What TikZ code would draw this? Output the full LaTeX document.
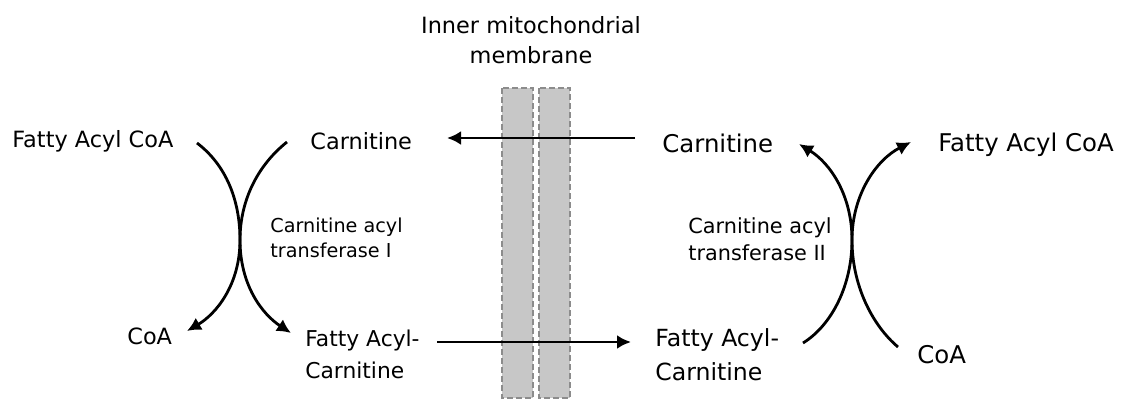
\documentclass[tikz,border=0pt]{standalone}
\usepackage{fontspec}
\setmainfont{DejaVu Sans}
\usetikzlibrary{arrows.meta}
\begin{document}
\begin{tikzpicture}[x=0.5pt,y=-0.5pt,
  lbl/.style={inner sep=0pt,anchor=west,font=\fontsize{11.2}{12}\selectfont},
  lblR/.style={inner sep=0pt,anchor=west,font=\fontsize{12.2}{13}\selectfont},
  enz/.style={inner sep=0pt,anchor=west,align=left,font=\fontsize{9.6}{12.5}\selectfont},
  arr/.style={line width=1.4pt,-{Latex[length=7pt,width=7pt]}},
  crv/.style={line width=1.4pt},
  bar/.style={fill=black!22,draw=black!45,line width=0.8pt,dash pattern=on 3pt off 1.5pt}]
\useasboundingbox (0,0) rectangle (1124,398);
% membrane
\path[bar] (502,88) rectangle (533,398);
\path[bar] (539,88) rectangle (570,398);
\node[inner sep=0pt,align=center,font=\fontsize{11.2}{15}\selectfont] (mem) at (531,40) {Inner mitochondrial\\membrane};
% left side
\node[lbl] (facoaL) at (12,141) {Fatty Acyl CoA};
\node[lbl] (carL) at (310,141) {Carnitine};
\node[enz] (cat1) at (270,238) {Carnitine acyl\\transferase I};
\node[lbl] (coaL) at (127,336) {CoA};
\node[lbl,align=left,font=\fontsize{10.9}{16}\selectfont] (facL) at (305,354) {Fatty Acyl-\\Carnitine};
% right side
\node[lblR] (carR) at (662,143) {Carnitine};
\node[lblR] (facoaR) at (938,145) {Fatty Acyl CoA};
\node[enz,font=\fontsize{10.4}{13.5}\selectfont] (cat2) at (688,239) {Carnitine acyl\\transferase II};
\node[lblR] (coaR) at (917,355) {CoA};
\node[lblR,align=left,font=\fontsize{11.8}{17}\selectfont] (facR) at (655,355) {Fatty Acyl-\\Carnitine};
% coordinates for curve ends
\coordinate (l1s) at (197,143);
\coordinate (l2s) at (287,142);
\coordinate (lx) at (240,240);
\coordinate (l1e) at (187,331);
\coordinate (l2e) at (291,333);
\coordinate (r1s) at (803,343);
\coordinate (r2s) at (898,347);
\coordinate (rx) at (852,240);
\coordinate (r1e) at (799,144);
\coordinate (r2e) at (911,142);
% left curves
\draw[crv] (l1s) .. controls (226,165) and (240,200) .. (lx);
\draw[arr] (lx) .. controls (240,285) and (216,314) .. (l1e);
\draw[crv] (l2s) .. controls (258,165) and (240,200) .. (lx);
\draw[arr] (lx) .. controls (240,285) and (262,314) .. (l2e);
% right curves
\draw[crv] (r1s) .. controls (832,325) and (852,285) .. (rx);
\draw[arr] (rx) .. controls (852,195) and (830,163) .. (r1e);
\draw[crv] (r2s) .. controls (872,325) and (852,285) .. (rx);
\draw[arr] (rx) .. controls (852,195) and (876,160) .. (r2e);
% transport arrows
\coordinate (t1) at (635,138);
\coordinate (t2) at (447,138);
\coordinate (b1) at (437,342);
\coordinate (b2) at (631,342);
\draw[arr] (t1) -- (t2);
\draw[arr] (b1) -- (b2);
\end{tikzpicture}
\end{document}
